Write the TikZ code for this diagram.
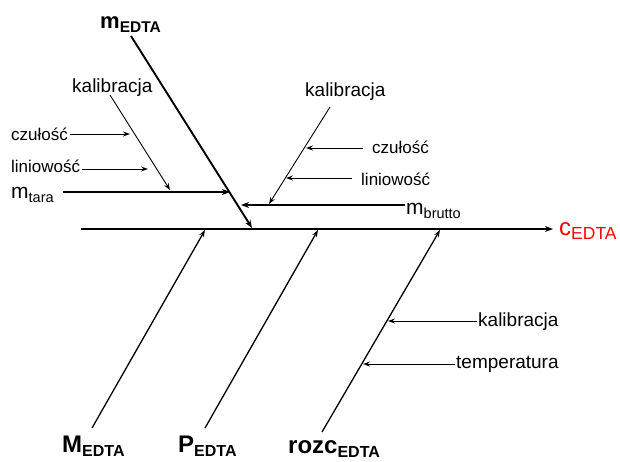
\documentclass[tikz,border=0pt]{standalone}
\usepackage{fontspec}
\setmainfont{Liberation Sans}
\usetikzlibrary{arrows.meta}

% main symbol with a lowered subscript: #1 size, #2 symbol, #3 sub size, #4 subscript
\newcommand{\symsub}[4]{{\fontsize{#1}{#1}\selectfont #2}{\fontsize{#3}{#3}\selectfont\raisebox{-4.5pt}{#4}}}

\begin{document}
\begin{tikzpicture}[x=1pt,y=-1pt,
  txt/.style={anchor=base west,inner sep=0pt,font=\fontsize{19}{19}\selectfont},
  smalltxt/.style={anchor=base west,inner sep=0pt,font=\fontsize{17}{17}\selectfont},
  thickarr/.style={line width=1.9pt,-{Stealth[length=8pt,width=6pt]}},
  midarr/.style={line width=1.3pt,-{Stealth[length=7pt,width=5pt]}},
  thinarr/.style={line width=0.9pt,-{Stealth[length=7pt,width=5pt]}}]
\useasboundingbox (0,0) rectangle (620,461);

% spine and effect
\coordinate (s0) at (81,229);
\coordinate (s1) at (553,229);
\node[anchor=base west,inner sep=0pt,text=red] (eff) at (559,235) {\symsub{24}{c}{17.5}{EDTA}};
\draw[thickarr] (s0) -- (s1);

% m_EDTA branch
\node[anchor=base west,inner sep=0pt] (mE) at (100,28) {\bfseries\symsub{22}{m}{15.5}{EDTA}};
\coordinate (mE0) at (131,36);
\coordinate (mE1) at (252,228);
\draw[thickarr] (mE0) -- (mE1);

% m_tara and its causes
\node[anchor=base west,inner sep=0pt] (mt) at (11,198) {\symsub{21}{m}{14.5}{tara}};
\coordinate (mt0) at (63,192);
\coordinate (mt1) at (230,192);
\draw[thickarr] (mt0) -- (mt1);

\node[txt] (kL) at (72,92) {kalibracja};
\coordinate (kL0) at (110,95);
\coordinate (kL1) at (170,190);
\draw[thinarr] (kL0) -- (kL1);

\node[smalltxt] (cL) at (11,140) {czułość};
\coordinate (cL0) at (70,134);
\coordinate (cL1) at (130,134);
\draw[thinarr] (cL0) -- (cL1);

\node[smalltxt] (lL) at (11,172) {liniowość};
\coordinate (lL0) at (82,169);
\coordinate (lL1) at (148,169);
\draw[thinarr] (lL0) -- (lL1);

% m_brutto and its causes
\node[anchor=base west,inner sep=0pt] (mb) at (406,214) {\symsub{21}{m}{14.5}{brutto}};
\coordinate (mb0) at (405,205);
\coordinate (mb1) at (241,205);
\draw[thickarr] (mb0) -- (mb1);

\node[txt] (kR) at (305,96) {kalibracja};
\coordinate (kR0) at (330,107);
\coordinate (kR1) at (269,204);
\draw[thinarr] (kR0) -- (kR1);

\node[smalltxt] (cR) at (372,153) {czułość};
\coordinate (cR0) at (363,148);
\coordinate (cR1) at (306,148);
\draw[thinarr] (cR0) -- (cR1);

\node[smalltxt] (lR) at (361,185) {liniowość};
\coordinate (lR0) at (352,178);
\coordinate (lR1) at (286,178);
\draw[thinarr] (lR0) -- (lR1);

% lower branches
\node[anchor=base west,inner sep=0pt] (ME) at (62,452) {\bfseries\symsub{24}{M}{16}{EDTA}};
\coordinate (ME0) at (92,428);
\coordinate (ME1) at (205,230);
\draw[midarr] (ME0) -- (ME1);

\node[anchor=base west,inner sep=0pt] (PE) at (178,452) {\bfseries\symsub{24}{P}{16}{EDTA}};
\coordinate (PE0) at (205,428);
\coordinate (PE1) at (318,230);
\draw[midarr] (PE0) -- (PE1);

\node[anchor=base west,inner sep=0pt] (RE) at (288,453) {\bfseries\symsub{24}{rozc}{16}{EDTA}};
\coordinate (RE0) at (322,432);
\coordinate (RE1) at (440,230);
\draw[midarr] (RE0) -- (RE1);

\node[txt] (kB) at (478,326) {kalibracja};
\coordinate (kB0) at (477,321);
\coordinate (kB1) at (388,321);
\draw[thinarr] (kB0) -- (kB1);

\node[txt] (tB) at (456,368) {temperatura};
\coordinate (tB0) at (455,364);
\coordinate (tB1) at (363,364);
\draw[thinarr] (tB0) -- (tB1);
\end{tikzpicture}
\end{document}
